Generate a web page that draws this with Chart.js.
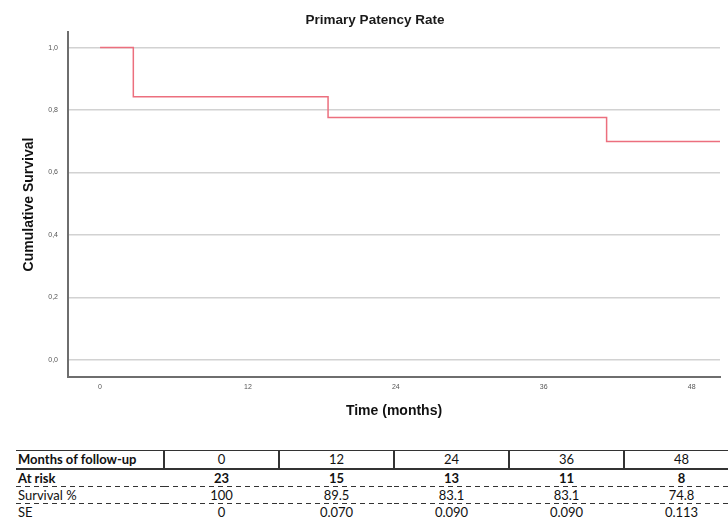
<!DOCTYPE html>
<html>
<head>
<meta charset="utf-8">
<script src="https://cdn.jsdelivr.net/npm/chart.js@4.4.1/dist/chart.umd.min.js"></script>
<style>
  body { margin: 0; width: 728px; height: 520px; overflow: hidden; background: #fff; position: relative; }
  #chartBox { position: absolute; left: 0; top: 0; width: 728px; height: 425px; }
  #lifeTable { position: absolute; left: 16px; top: 450px; border-collapse: collapse; table-layout: fixed;
               width: 722px; font-family: Lato, "Open Sans", sans-serif; font-size: 13px; color: #111;
               border-top: 1px solid #333; }
  #lifeTable td { padding: 0; text-align: center; height: 17px; line-height: 17px; white-space: nowrap; }
  #lifeTable td:first-child { text-align: left; padding-left: 2px; }
  #lifeTable tr.head td { border-bottom: 2px solid #333; height: 17px; }
  #lifeTable tr.head td + td, #lifeTable tr.head td:first-child { border-right: 2px solid #333; }
  #lifeTable tr.dash td { background: repeating-linear-gradient(to right, #333 0 5px, transparent 5px 9px) bottom / 100% 1.5px no-repeat; }
  #lifeTable .bold { font-weight: bold; }
</style>
</head>
<body>
<div id="chartBox"><canvas id="kmChart"></canvas></div>
<table id="lifeTable"></table>
<script>
// Kaplan-Meier curve
var times = [0, 2.7, 18.5, 41.1, 51];
var survival = [1.0, 0.843, 0.776, 0.699, 0.699];

var xTickValues = [0, 12, 24, 36, 48];
var yTickValues = [0, 0.2, 0.4, 0.6, 0.8, 1.0];
var yTickLabels = ['0,0', '0,2', '0,4', '0,6', '0,8', '1,0'];

// life table under the chart
var tableMonths = ['0', '12', '24', '36', '48'];
var atRisk = ['23', '15', '13', '11', '8'];
var survivalPct = ['100', '89.5', '83.1', '83.1', '74.8'];
var seValues = ['0', '0.070', '0.090', '0.090', '0.113'];

var chartTitle = 'Primary Patency Rate';

function buildTable() {
    var rows = [
        { label: 'Months of follow-up', values: tableMonths, cls: 'head', labelBold: true, bold: false },
        { label: 'At risk', values: atRisk, cls: 'dash', labelBold: true, bold: true },
        { label: 'Survival %', values: survivalPct, cls: 'dash', labelBold: false, bold: false },
        { label: 'SE', values: seValues, cls: '', labelBold: false, bold: false }
    ];
    var table = document.getElementById('lifeTable');
    var html = '<colgroup><col style="width:148px">';
    for (var c = 0; c < tableMonths.length; c++) {
        html += '<col style="width:115px">';
    }
    html += '</colgroup>';
    rows.forEach(function(r) {
        html += '<tr class="' + r.cls + '"><td class="' + (r.labelBold ? 'bold' : '') + '">' + r.label + '</td>';
        r.values.forEach(function(v) {
            html += '<td class="' + (r.bold ? 'bold' : '') + '">' + v + '</td>';
        });
        html += '</tr>';
    });
    table.innerHTML = html;
}
buildTable();

var points = times.map(function(t, i) { return { x: t, y: survival[i] }; });

// title is centred a bit left of the plot, like the SPSS output
var titlePlugin = {
    id: 'spssTitle',
    afterDraw: function(chart) {
        var ctx = chart.ctx;
        ctx.save();
        ctx.font = 'bold 13.5px "Liberation Sans", Arial, sans-serif';
        ctx.fillStyle = '#1a1a1a';
        ctx.textAlign = 'center';
        ctx.textBaseline = 'middle';
        ctx.fillText(chartTitle, 375, 20);
        ctx.restore();
    }
};

var tickFont = { family: '"Liberation Sans", Arial, sans-serif', size: 7 };
var axisTitleFont = { family: '"Liberation Sans", Arial, sans-serif', size: 14, weight: 'bold' };

new Chart(document.getElementById('kmChart'), {
    type: 'line',
    data: {
        datasets: [{
            label: 'Cumulative Survival',
            data: points,
            borderColor: '#ec6f7e',
            borderWidth: 1.5,
            pointRadius: 0,
            stepped: true,
            fill: false
        }]
    },
    options: {
        responsive: true,
        maintainAspectRatio: false,
        animation: false,
        layout: { padding: { top: 32, right: 8, left: 0, bottom: 0 } },
        plugins: {
            legend: { display: false },
            tooltip: { enabled: false },
            title: { display: false }
        },
        scales: {
            x: {
                type: 'linear',
                min: -2.6,
                max: 50.3,
                afterBuildTicks: function(scale) {
                    scale.ticks = xTickValues.map(function(v) { return { value: v }; });
                },
                afterFit: function(scale) { scale.height = 48; },
                grid: { display: false, drawTicks: false },
                border: { display: true, color: '#6e6e6e', width: 2 },
                ticks: { font: tickFont, color: '#555', padding: 6, maxRotation: 0 },
                title: {
                    display: true, text: 'Time (months)', font: axisTitleFont, color: '#111',
                    padding: { top: 0, bottom: 5.6 }
                }
            },
            y: {
                type: 'linear',
                min: -0.055,
                max: 1.05,
                afterBuildTicks: function(scale) {
                    scale.ticks = yTickValues.map(function(v) { return { value: v }; });
                },
                afterFit: function(scale) { scale.width = 68; },
                grid: { color: '#d2d2d2', lineWidth: 1.5, drawTicks: false },
                border: { display: true, color: '#6e6e6e', width: 2 },
                ticks: {
                    font: tickFont, color: '#555', padding: 10,
                    callback: function(v) { return yTickLabels[yTickValues.indexOf(v)]; }
                },
                title: {
                    display: true, text: 'Cumulative Survival', font: axisTitleFont, color: '#111',
                    padding: { top: 20.6, bottom: 0 }
                }
            }
        }
    },
    plugins: [titlePlugin]
});
</script>
</body>
</html>
